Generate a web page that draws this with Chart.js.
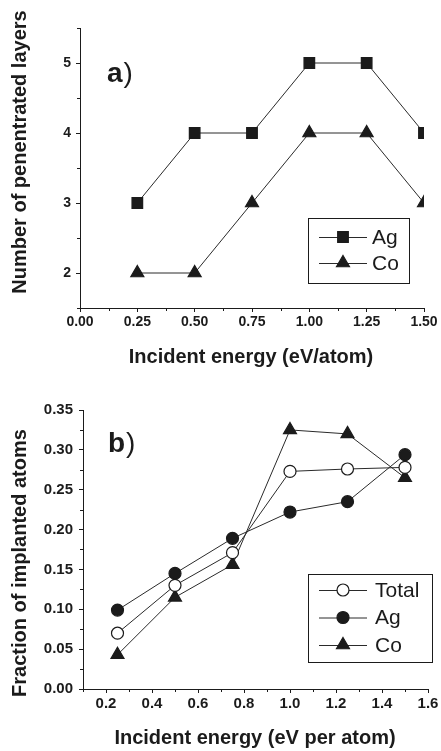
<!DOCTYPE html>
<html>
<head>
<meta charset="utf-8">
<script src="https://cdn.jsdelivr.net/npm/chart.js@4.4.1/dist/chart.umd.min.js"></script>
<style>
  body { margin: 0; background: #fff; }
  canvas { display: block; }
</style>
</head>
<body>
<canvas id="layersChart" width="441" height="380"></canvas>
<canvas id="fractionChart" width="441" height="371"></canvas>
<script>
// incident energy (eV/atom), same for both panels
const energies = [0.25, 0.5, 0.75, 1.0, 1.25, 1.5];

// panel a) number of penetrated layers
const agLayers = [3, 4, 4, 5, 5, 4];
const coLayers = [2, 2, 3, 4, 4, 3];

// panel b) fraction of implanted atoms
const totalFraction = [0.070, 0.130, 0.171, 0.273, 0.276, 0.278];
const agFraction = [0.099, 0.145, 0.189, 0.222, 0.235, 0.294];
const coFraction = [0.043, 0.115, 0.156, 0.325, 0.320, 0.265];

// tick labels
const energyTicksA = [0, 0.25, 0.5, 0.75, 1.0, 1.25, 1.5];
const layerTicks = [2, 3, 4, 5];
const energyTicksB = [0.2, 0.4, 0.6, 0.8, 1.0, 1.2, 1.4, 1.6];
const fractionTicks = [0, 0.05, 0.1, 0.15, 0.2, 0.25, 0.3, 0.35];

const ink = '#1b1b1b';
const FONT = '"Liberation Sans", Arial, sans-serif';

const pts = ys => energies.map((x, i) => ({ x, y: ys[i] }));

// short unlabelled ticks between the major ones
const minorTicks = {
  id: 'minorTicks',
  afterDraw(chart, args, opts) {
    const ctx = chart.ctx;
    const area = chart.chartArea;
    ctx.save();
    ctx.strokeStyle = ink;
    ctx.lineWidth = 1;
    Object.entries(opts.steps || {}).forEach(([id, step]) => {
      const scale = chart.scales[id];
      const n = Math.round((scale.max - scale.min) / step);
      for (let i = 0; i <= n; i++) {
        const v = scale.min + i * step;
        if (scale.ticks.some(t => Math.abs(t.value - v) < step / 10)) continue;
        const p = Math.round(scale.getPixelForValue(v)) + 0.5;
        ctx.beginPath();
        if (scale.isHorizontal()) {
          ctx.moveTo(p, area.bottom);
          ctx.lineTo(p, area.bottom + 3);
        } else {
          ctx.moveTo(area.left, p);
          ctx.lineTo(area.left - 3, p);
        }
        ctx.stroke();
      }
    });
    ctx.restore();
  }
};

// axis titles, panel tag and the boxed legend
const annotations = {
  id: 'annotations',
  afterDraw(chart, args, o) {
    const ctx = chart.ctx;
    ctx.save();
    ctx.fillStyle = ink;
    ctx.textAlign = 'center';
    ctx.textBaseline = 'middle';
    ctx.font = `bold 20px ${FONT}`;
    ctx.fillText(o.xTitle, o.xTitleAt[0], o.xTitleAt[1]);
    ctx.save();
    ctx.translate(o.yTitleAt[0], o.yTitleAt[1]);
    ctx.rotate(-Math.PI / 2);
    ctx.fillText(o.yTitle, 0, 0);
    ctx.restore();

    // panel tag: bold letter, plain parenthesis
    ctx.textAlign = 'left';
    ctx.textBaseline = 'alphabetic';
    ctx.font = `bold ${o.tagSize}px ${FONT}`;
    ctx.fillText(o.tag, o.tagAt[0], o.tagAt[1]);
    const w = ctx.measureText(o.tag).width;
    ctx.font = `${o.tagSize}px ${FONT}`;
    ctx.fillText(')', o.tagAt[0] + w + 1, o.tagAt[1]);

    // legend
    const b = o.legend;
    ctx.strokeStyle = ink;
    ctx.lineWidth = 1;
    ctx.strokeRect(b.x + 0.5, b.y + 0.5, b.w, b.h);
    chart.data.datasets.forEach((ds, i) => {
      const y = b.firstRow + i * b.rowGap;
      ctx.strokeStyle = ds.borderColor;
      ctx.lineWidth = 1;
      ctx.beginPath();
      ctx.moveTo(b.lineFrom, y + 0.5);
      ctx.lineTo(b.lineTo, y + 0.5);
      ctx.stroke();
      ctx.fillStyle = ds.pointBackgroundColor;
      ctx.strokeStyle = ds.pointBorderColor;
      ctx.lineWidth = ds.pointBorderWidth;
      Chart.helpers.drawPoint(ctx, {
        pointStyle: ds.pointStyle, radius: ds.pointRadius, rotation: 0, borderWidth: ds.pointBorderWidth
      }, (b.lineFrom + b.lineTo) / 2, y);
      ctx.fillStyle = ink;
      ctx.font = `${b.fontSize}px ${FONT}`;
      ctx.textBaseline = 'middle';
      ctx.fillText(ds.label, b.textX, y + 1);
    });
    ctx.restore();
  }
};

function series(label, ys, style, radius, fill) {
  return {
    label, data: pts(ys),
    borderColor: '#2a2a2a', borderWidth: 1, tension: 0,
    pointStyle: style, pointRadius: radius, pointHoverRadius: radius,
    pointBackgroundColor: fill, pointBorderColor: ink, pointBorderWidth: 1.2
  };
}

function axis(min, max, values, fmt, fit, size, pad) {
  return {
    type: 'linear', min, max,
    afterBuildTicks: s => { s.ticks = values.map(value => ({ value })); },
    afterFit: fit,
    ticks: {
      color: ink, padding: pad, autoSkip: false, maxRotation: 0,
      font: { family: FONT, size, weight: 'bold' },
      callback: v => v.toFixed(fmt)
    },
    grid: { drawOnChartArea: false, drawTicks: true, tickLength: 4, color: ink, lineWidth: 1 },
    border: { display: true, color: ink, width: 1 }
  };
}

Chart.register(minorTicks, annotations);

new Chart(document.getElementById('layersChart'), {
  type: 'line',
  data: {
    datasets: [
      series('Ag', agLayers, 'rect', 7.5, ink),
      series('Co', coLayers, 'triangle', 7.5, ink)
    ]
  },
  options: {
    responsive: false, animation: false, devicePixelRatio: 1,
    layout: { padding: { left: 0, top: 28, right: 17, bottom: 0 } },
    scales: {
      x: axis(0, 1.5, energyTicksA, 2, s => { s.height = 72; }, 14, 2),
      y: axis(1.5, 5.5, layerTicks, 0, s => { s.width = 80; }, 14, 5)
    },
    plugins: {
      legend: { display: false },
      tooltip: { enabled: false },
      minorTicks: { steps: { x: 0.125, y: 0.5 } },
      annotations: {
        xTitle: 'Incident energy (eV/atom)', xTitleAt: [251, 357],
        yTitle: 'Number of penentrated layers', yTitleAt: [20, 152],
        tag: 'a', tagSize: 28, tagAt: [107, 82],
        legend: { x: 308, y: 218, w: 101, h: 65, firstRow: 237, rowGap: 26,
                  lineFrom: 319, lineTo: 367, textX: 372, fontSize: 21 }
      }
    }
  }
});

new Chart(document.getElementById('fractionChart'), {
  type: 'line',
  data: {
    datasets: [
      series('Total', totalFraction, 'circle', 6, '#ffffff'),
      series('Ag', agFraction, 'circle', 6, ink),
      series('Co', coFraction, 'triangle', 7.5, ink)
    ]
  },
  options: {
    responsive: false, animation: false, devicePixelRatio: 1,
    layout: { padding: { left: 0, top: 30, right: 13, bottom: 0 } },
    scales: {
      x: axis(0.1, 1.6, energyTicksB, 1, s => { s.height = 62; }, 15, 2),
      y: axis(0, 0.35, fractionTicks, 2, s => { s.width = 83; }, 15, 6)
    },
    plugins: {
      legend: { display: false },
      tooltip: { enabled: false },
      minorTicks: { steps: { x: 0.1, y: 0.025 } },
      annotations: {
        xTitle: 'Incident energy (eV per atom)', xTitleAt: [255, 358],
        yTitle: 'Fraction of implanted atoms', yTitleAt: [20, 183],
        tag: 'b', tagSize: 28, tagAt: [108, 72],
        legend: { x: 308, y: 194, w: 124, h: 88, firstRow: 210, rowGap: 27.5,
                  lineFrom: 319, lineTo: 367, textX: 375, fontSize: 21 }
      }
    }
  }
});
</script>
</body>
</html>
